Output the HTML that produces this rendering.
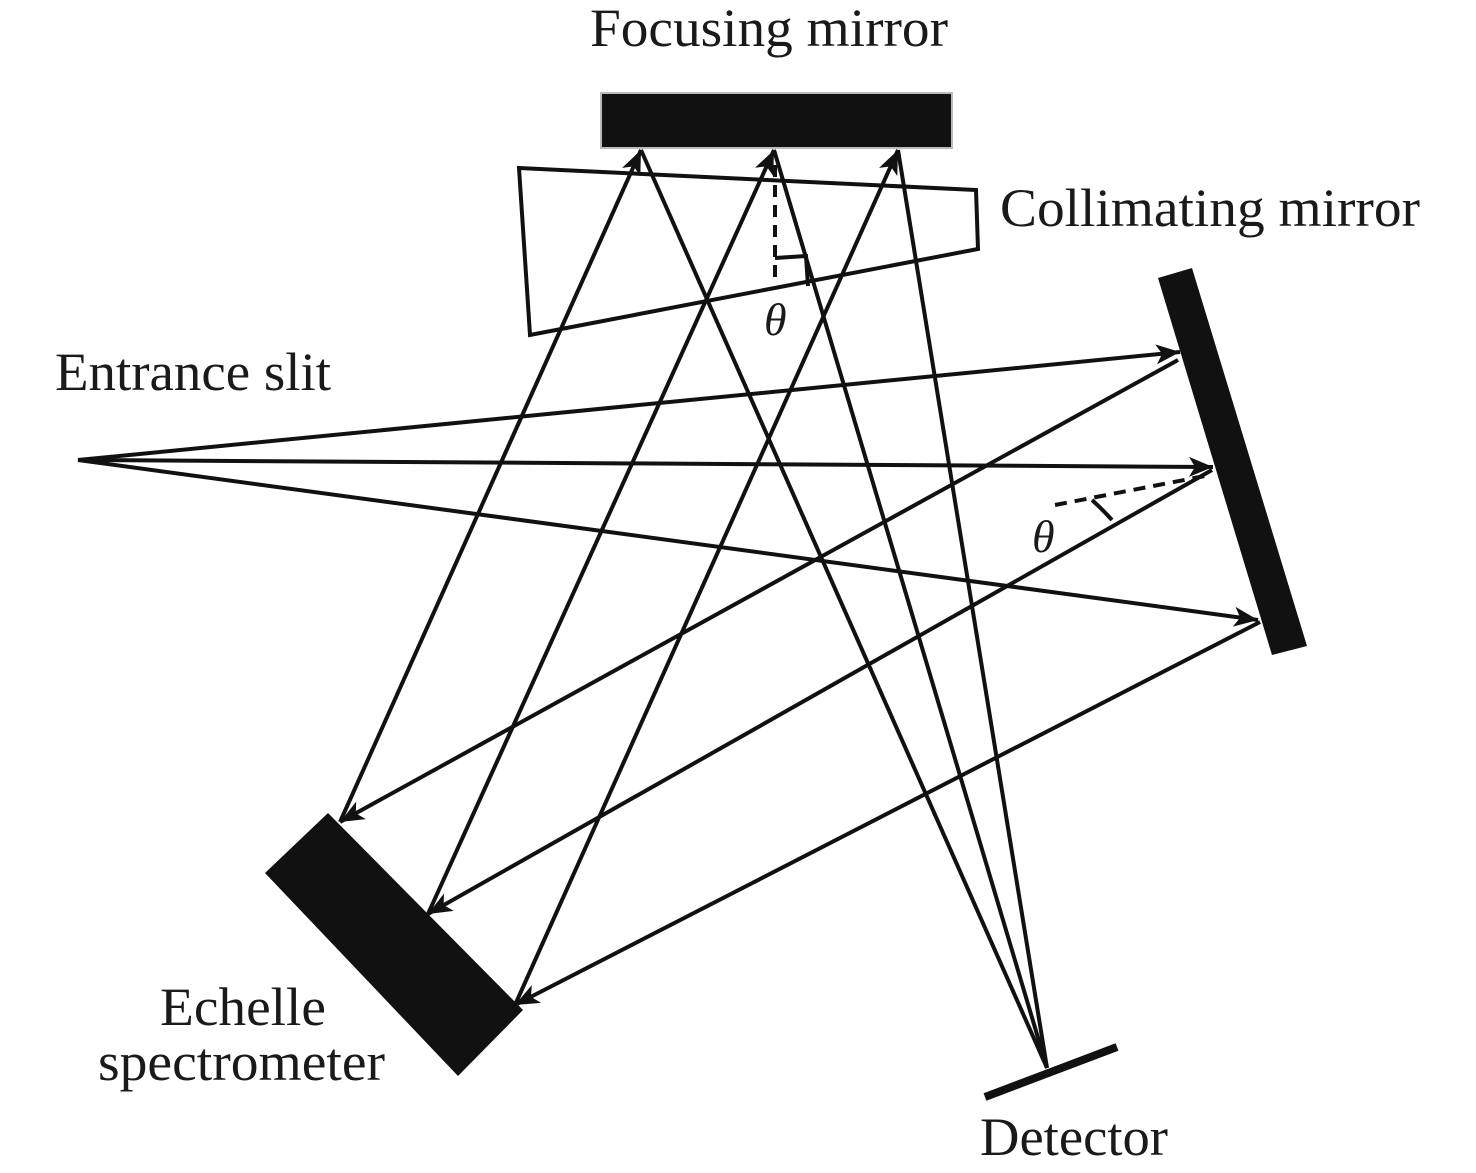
<!DOCTYPE html>
<html><head><style>
html,body{margin:0;padding:0;background:#fff;}
svg{display:block;}
text{font-family:"Liberation Serif",serif;font-size:54px;fill:#1a1a1a;}
</style></head><body>
<svg width="1476" height="1173" viewBox="0 0 1476 1173" xmlns="http://www.w3.org/2000/svg">
<defs>
<marker id="m" viewBox="-26 -12 30 24" refX="0" refY="0" markerWidth="30" markerHeight="24" markerUnits="userSpaceOnUse" orient="auto">
<path d="M0,0 L-24,-10 L-18,0 L-24,10 Z" fill="#111"/>
</marker>
</defs>
<rect x="601" y="93" width="351" height="55" fill="#111" stroke="#bbb" stroke-width="2"/>
<polygon points="519,168 976,190 978,249 530,335" fill="none" stroke="#111" stroke-width="4"/>
<polygon points="1158,278 1192,268 1307,646 1272,655" fill="#111"/>
<polygon points="328,813 265,873 458,1076 523,1010" fill="#111"/>
<line x1="985" y1="1097" x2="1117" y2="1047" stroke="#111" stroke-width="8"/>
<g stroke="#111" stroke-width="4" fill="none">
<line x1="78" y1="460" x2="1180" y2="352" marker-end="url(#m)"/>
<line x1="78" y1="460" x2="1213" y2="467" marker-end="url(#m)"/>
<line x1="78" y1="460" x2="1258" y2="620" marker-end="url(#m)"/>
<line x1="1178" y1="360" x2="340" y2="822" marker-end="url(#m)"/>
<line x1="1212" y1="470" x2="428" y2="914" marker-end="url(#m)"/>
<line x1="1260" y1="622" x2="515" y2="1005" marker-end="url(#m)"/>
<line x1="340" y1="822" x2="641" y2="150" marker-end="url(#m)"/>
<line x1="428" y1="914" x2="774" y2="150" marker-end="url(#m)"/>
<line x1="515" y1="1005" x2="898" y2="150" marker-end="url(#m)"/>
<line x1="641" y1="150" x2="1047" y2="1068"/>
<line x1="774" y1="150" x2="1047" y2="1068"/>
<line x1="898" y1="150" x2="1047" y2="1068"/>
<line x1="775" y1="165" x2="775" y2="280" stroke-dasharray="12,8"/>
<polyline points="775,258 806,256 808,286"/>
<line x1="1055" y1="505" x2="1210" y2="475" stroke-dasharray="12,8"/>
<path d="M1092,500 Q1103,510 1112,520"/>
</g>
<text x="764" y="335" font-style="italic" style="font-size:46px">θ</text>
<text x="1032" y="552" font-style="italic" style="font-size:46px">θ</text>
<text x="590" y="46" textLength="358" lengthAdjust="spacingAndGlyphs">Focusing mirror</text>
<text x="1000" y="226" textLength="420" lengthAdjust="spacingAndGlyphs">Collimating mirror</text>
<text x="55" y="390" textLength="276" lengthAdjust="spacingAndGlyphs">Entrance slit</text>
<text x="160" y="1025" textLength="166" lengthAdjust="spacingAndGlyphs">Echelle</text>
<text x="98" y="1080" textLength="287" lengthAdjust="spacingAndGlyphs">spectrometer</text>
<text x="980" y="1155" textLength="188" lengthAdjust="spacingAndGlyphs">Detector</text>
</svg>
</body></html>
